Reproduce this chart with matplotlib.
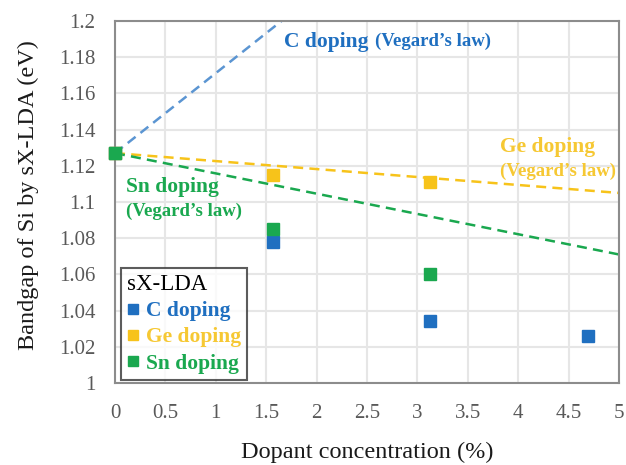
import matplotlib
matplotlib.use("Agg")
import matplotlib.pyplot as plt
import numpy as np

# ---- data ----
conc = [0, 1.5625, 3.125, 4.6875]
c_gap = [1.127, 1.078, 1.034, 1.026]
ge_conc = [0, 1.5625, 3.125]
ge_gap = [1.127, 1.115, 1.111]
sn_conc = [0, 1.5625, 3.125]
sn_gap = [1.127, 1.085, 1.060]

vegard_x = [0, 5]
vegard_c = [1.127, 1.348]
vegard_ge = [1.127, 1.105]
vegard_sn = [1.127, 1.071]

xticks = [0, 0.5, 1, 1.5, 2, 2.5, 3, 3.5, 4, 4.5, 5]
xtick_labels = ["0", "0.5", "1", "1.5", "2", "2.5", "3", "3.5", "4", "4.5", "5"]
yticks = [1.0, 1.02, 1.04, 1.06, 1.08, 1.1, 1.12, 1.14, 1.16, 1.18, 1.2]
ytick_labels = ["1", "1.02", "1.04", "1.06", "1.08", "1.1", "1.12", "1.14", "1.16", "1.18", "1.2"]

BLUE = "#1f6fc0"
BLUE_L = "#5b95d2"
GOLD = "#f7c31a"
GOLD_T = "#f6c833"
GREEN = "#1aa84f"

plt.rcParams['font.family'] = ['Liberation Serif', 'DejaVu Serif']

W, H = 626, 465
L, R, T, B = 115, 619, 21, 383
fig = plt.figure(figsize=(W/100, H/100), dpi=100)
ax = fig.add_axes([L/W, 1-B/H, (R-L)/W, (B-T)/H])

# Vegard lines
ax.plot(vegard_x, vegard_c, ls=(0, (4, 2.5)), color=BLUE_L, lw=1.8, zorder=2)
ax.plot(vegard_x, vegard_ge, ls=(0, (4, 2.5)), color=GOLD, lw=1.8, zorder=2)
ax.plot(vegard_x, vegard_sn, ls=(0, (4, 2.5)), color=GREEN, lw=1.8, zorder=2)

# points
hc, = ax.plot(conc, c_gap, 's', color=BLUE, ms=8.5, ls='none', zorder=3, clip_on=False)
hg, = ax.plot(ge_conc, ge_gap, 's', color=GOLD, ms=8.5, ls='none', zorder=3, clip_on=False)
hs, = ax.plot(sn_conc, sn_gap, 's', color=GREEN, ms=8.5, ls='none', zorder=4, clip_on=False)

ax.set_xlim(0, 5)
ax.set_ylim(1.0, 1.2)
ax.set_xticks(xticks)
ax.set_xticklabels(xtick_labels)
ax.set_yticks(yticks)
ax.set_yticklabels(ytick_labels)
ax.tick_params(axis='x', length=0, labelsize=15, labelcolor="#595959", pad=15)
ax.tick_params(axis='y', length=0, labelsize=15, labelcolor="#595959", pad=14)
ax.grid(True, color="#e6e6e6", lw=1.5)
ax.set_axisbelow(True)
for s in ax.spines.values():
    s.set_color("#8c8c8c")
    s.set_linewidth(1.5)

ax.set_xlabel("Dopant concentration (%)", fontsize=17.5, color="#1a1a1a", labelpad=14)
ax.set_ylabel("Bandgap of Si by sX-LDA (eV)", fontsize=17.5, color="#1a1a1a")
ax.yaxis.set_label_coords(-0.151, 0.52)

# annotations
ax.text(1.68, 1.1885, "C doping", color=BLUE, fontsize=15.5, fontweight='bold', va='center')
ax.text(2.58, 1.1885, "(Vegard\u2019s law)", color=BLUE, fontsize=13.5, fontweight='bold', va='center')
ax.text(3.82, 1.1305, "Ge doping", color=GOLD_T, fontsize=15.5, fontweight='bold', va='center')
ax.text(3.82, 1.117, "(Vegard\u2019s law)", color=GOLD_T, fontsize=13.5, fontweight='bold', va='center')
ax.text(0.11, 1.1085, "Sn doping", color=GREEN, fontsize=15.5, fontweight='bold', va='center')
ax.text(0.11, 1.095, "(Vegard\u2019s law)", color=GREEN, fontsize=13.5, fontweight='bold', va='center')

leg = ax.legend([hc, hg, hs], ["C doping", "Ge doping", "Sn doping"],
                title="sX-LDA", loc='lower left',
                bbox_to_anchor=((121-L)/(R-L), (B-380)/(B-T)),
                frameon=True, fancybox=False, edgecolor="#333333",
                prop={'size': 15.5, 'weight': 'bold'}, title_fontsize=16.5,
                handlelength=0.55, handletextpad=0.3, borderpad=0.3,
                labelspacing=0.28, borderaxespad=0.0, markerscale=0.8)
leg._legend_box.align = "left"
leg.get_frame().set_linewidth(1.5)
for t, c in zip(leg.get_texts(), [BLUE, GOLD_T, GREEN]):
    t.set_color(c)

fig.savefig("out.png", dpi=100)
